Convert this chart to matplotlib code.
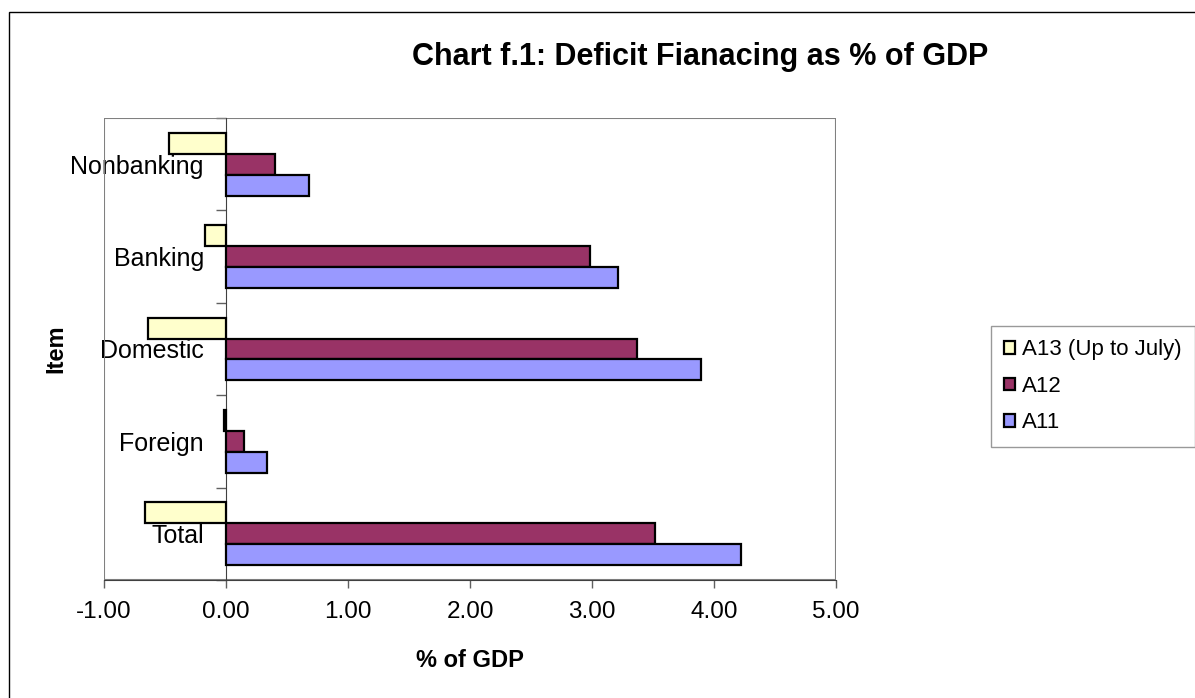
import numpy as np
import matplotlib
matplotlib.use('Agg')
from matplotlib import pyplot as plt
from matplotlib.patches import Rectangle

plt.rcParams['font.family'] = ['Liberation Sans', 'DejaVu Sans']

# values (% of GDP), bottom category first
categories = ['Total', 'Foreign', 'Domestic', 'Banking', 'Nonbanking']
series_names = ['A13 (Up to July)', 'A12', 'A11']
a13 = [-0.66, -0.02, -0.64, -0.17, -0.47]
a12 = [3.52, 0.15, 3.37, 2.98, 0.40]
a11 = [4.22, 0.34, 3.89, 3.21, 0.68]
x_ticks = [-1, 0, 1, 2, 3, 4, 5]

colors = ['#FFFFCC', '#993366', '#9999FF']

W, H = 1195, 698
fig = plt.figure(figsize=(W / 100, H / 100), dpi=100)

# outer chart frame (only top and left edges fall inside the picture)
fig.add_artist(Rectangle((9 / W, -0.05), 1.2, 1 - 12 / H + 0.05,
                         transform=fig.transFigure, fill=False,
                         ec='black', lw=1.0))

ax = fig.add_axes([104 / W, 118 / H, 732 / W, 462 / H])

pos = np.arange(len(categories))
bh = 0.227
offsets = [bh, 0, -bh]
for vals, name, col, off in zip([a13, a12, a11], series_names, colors, offsets):
    ax.barh(pos + off, vals, height=bh, color=col, edgecolor='black',
            linewidth=1.6, label=name, zorder=3)

ax.set_xlim(-1, 5)
ax.set_ylim(-0.5, len(categories) - 0.5)

# plot area border
ax.add_patch(Rectangle((0, 0), 1, 1, transform=ax.transAxes, fill=False,
                       ec='#808080', lw=1.5, zorder=2))

for s in ['top', 'right']:
    ax.spines[s].set_visible(False)
ax.spines['left'].set_position(('data', 0))
ax.spines['left'].set_color('#404040')
ax.spines['bottom'].set_color('#404040')
ax.spines['left'].set_zorder(2.6)
ax.spines['bottom'].set_zorder(2.6)

ax.set_xticks(x_ticks)
ax.set_xticklabels(['%.2f' % v for v in x_ticks])
ax.tick_params(axis='x', length=6, width=1, color='#606060', pad=9,
               labelsize=17.5)

ax.set_yticks(np.arange(-0.5, len(categories), 1))
ax.set_yticklabels([])
ax.set_yticks(pos, minor=True)
ax.set_yticklabels(categories, minor=True)
ax.tick_params(axis='y', which='major', length=7, width=1, color='#606060')
ax.tick_params(axis='y', which='minor', length=0, pad=16, labelsize=18)

ax.set_xlabel('% of GDP', fontsize=17, fontweight='bold', labelpad=19)
ax.set_ylabel('Item', fontsize=17, fontweight='bold')
ax.yaxis.set_label_coords((67 - 104) / 732, 0.5)

fig.text(700 / W, 1 - 57 / H, 'Chart f.1: Deficit Fianacing as % of GDP',
         ha='center', va='center', fontsize=22, fontweight='bold')

leg = fig.legend(loc='upper left', bbox_to_anchor=(991 / W, 1 - 326 / H),
                 borderaxespad=0, fontsize=16, frameon=True, fancybox=False,
                 edgecolor='#808080', handlelength=0.5, handleheight=0.5,
                 handletextpad=0.3, labelspacing=0.7, borderpad=0.6)
leg.get_frame().set_linewidth(1.0)

fig.savefig('out.png', dpi=100)
